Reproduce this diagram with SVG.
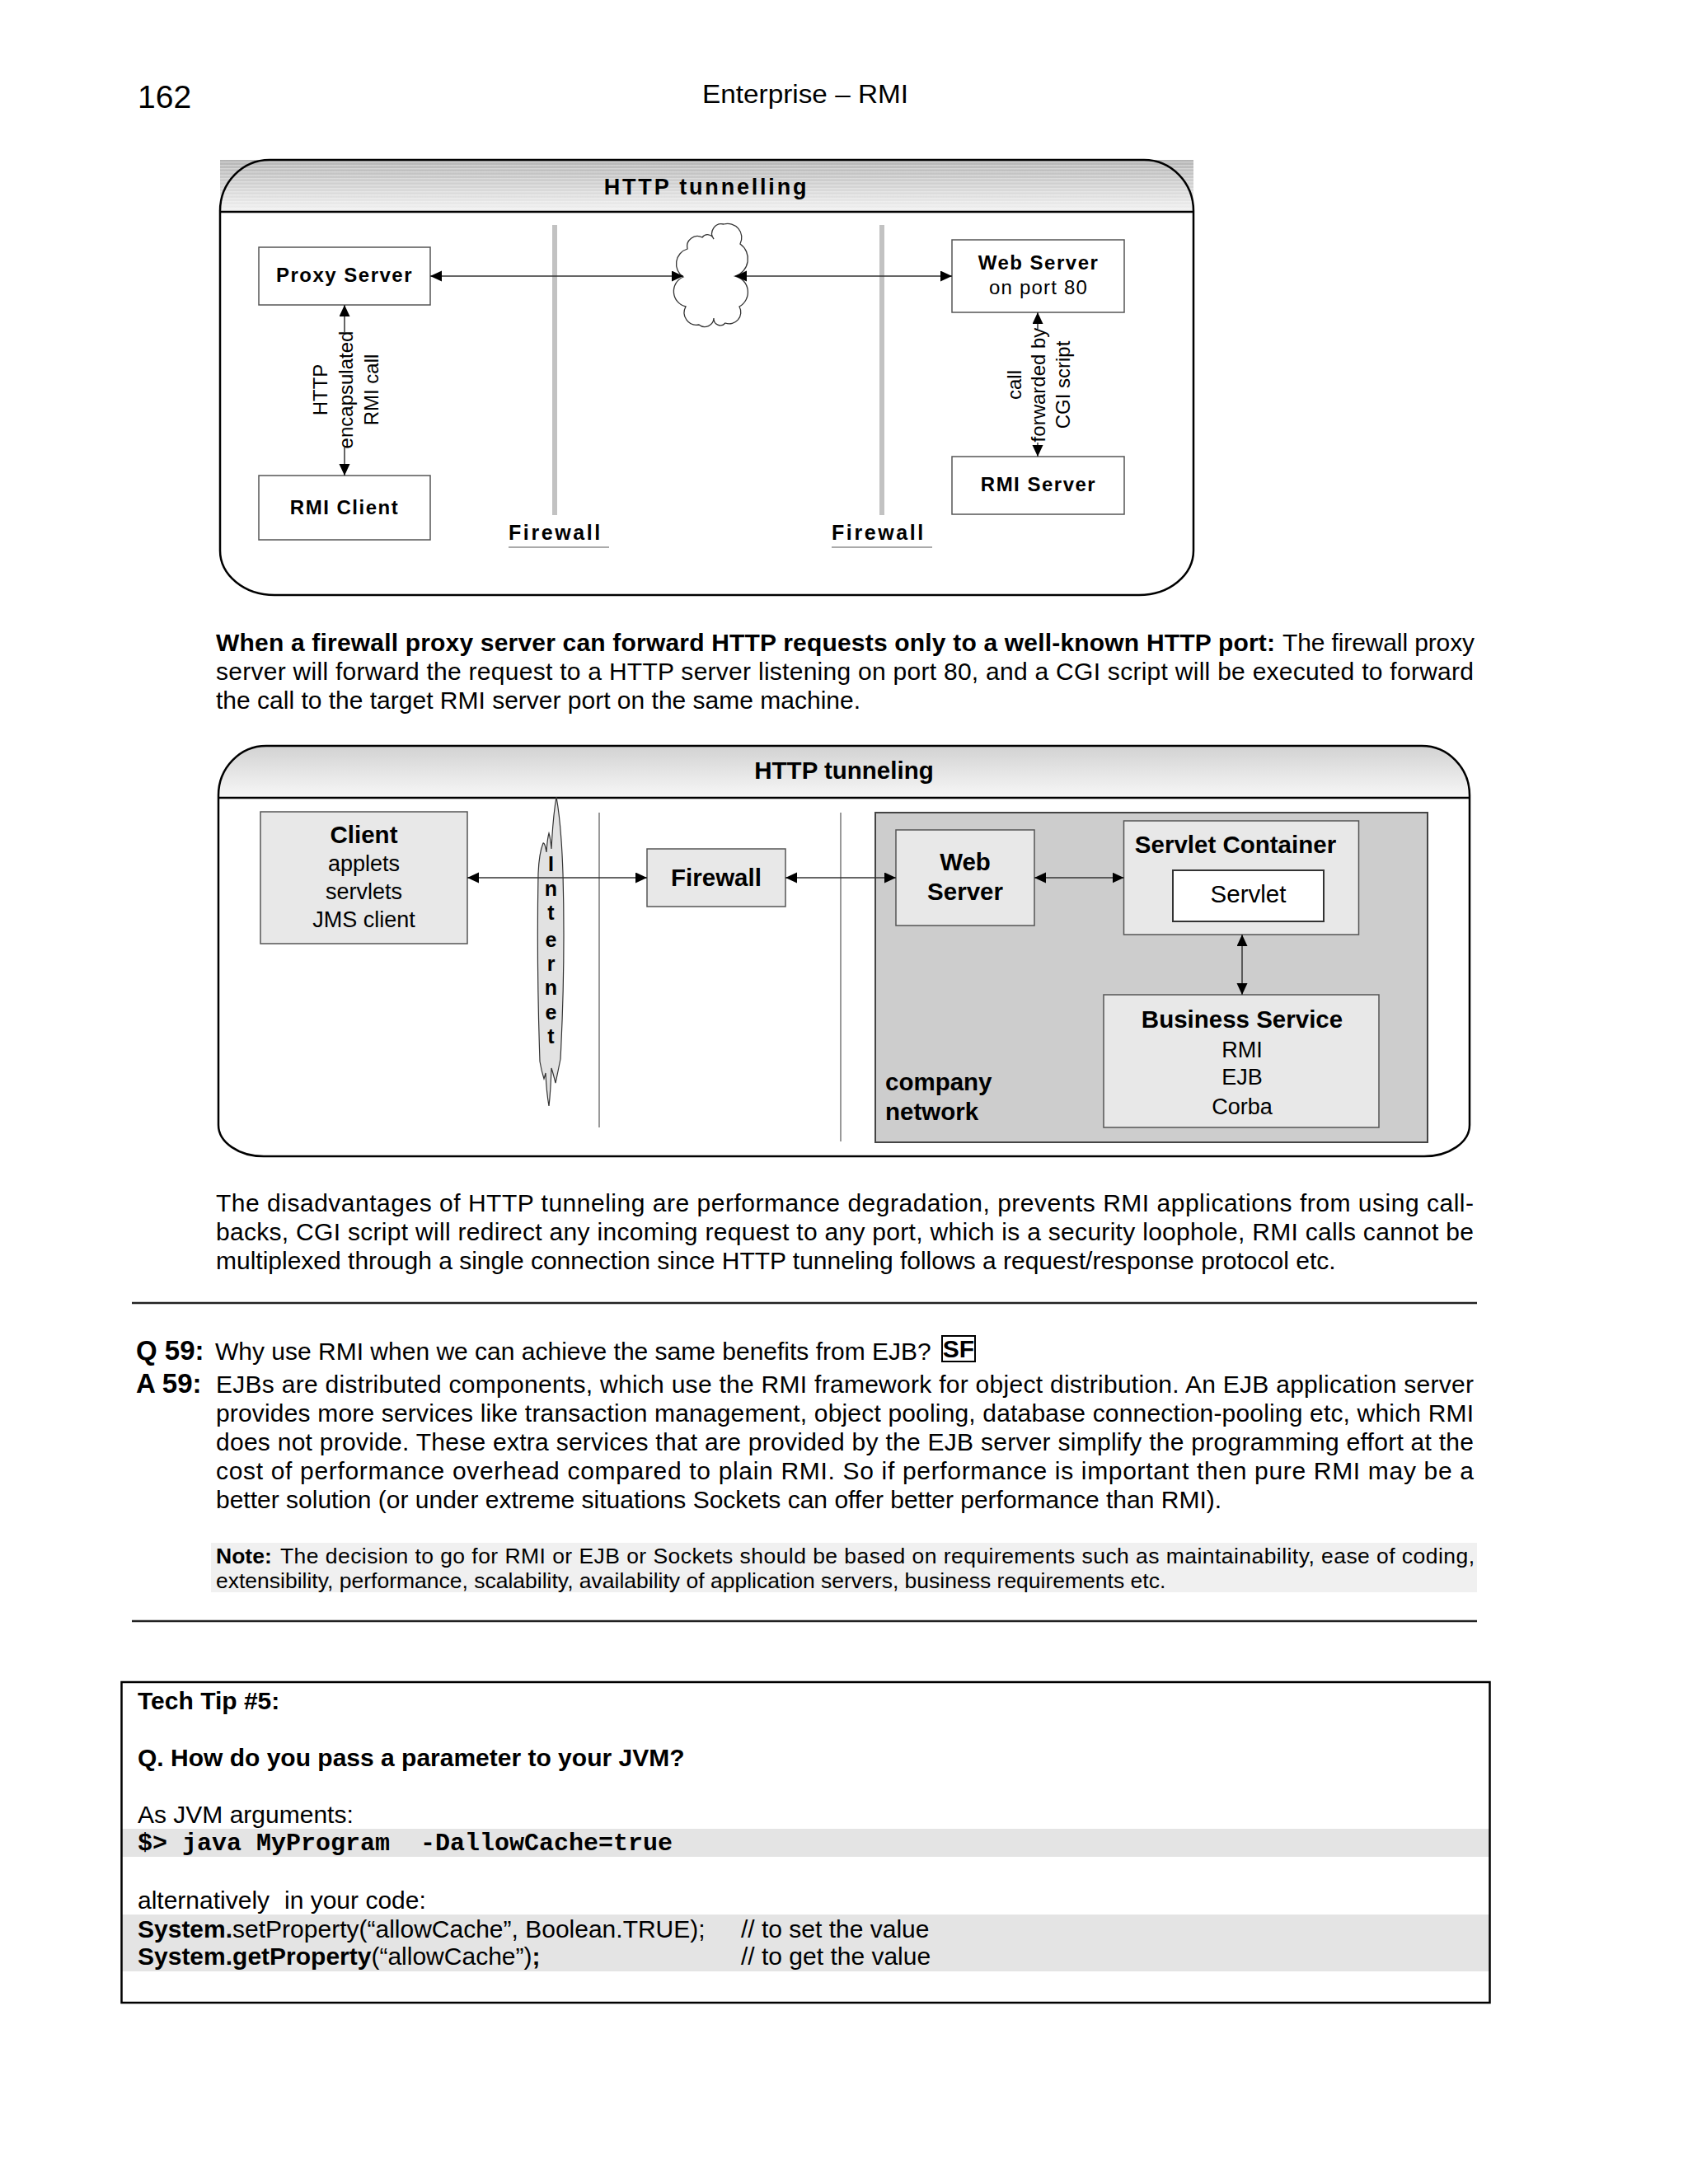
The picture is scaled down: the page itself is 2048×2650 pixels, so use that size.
<svg xmlns="http://www.w3.org/2000/svg" width="2048" height="2650" viewBox="0 0 2048 2650">
<style>
.t{font-family:"Liberation Sans",Arial,sans-serif;fill:#000}
.b{font-weight:bold}
.mono{font-family:"Liberation Mono","Courier New",monospace;font-weight:bold;fill:#000}
.body{font-size:30px}
.note{font-size:26.5px}
.d1{font-size:24px;font-weight:bold;letter-spacing:1.5px}
.d1r{font-size:24px;letter-spacing:1.2px}
.rot{font-size:24px}
.fw{font-size:25px;font-weight:bold;letter-spacing:2.6px}
.d2b{font-size:29.5px;font-weight:bold}
.d2r{font-size:27px}
.box1{fill:#fff;stroke:#555;stroke-width:1.5}
.box2{fill:#e8e8e8;stroke:#555;stroke-width:1.5}
.frame{fill:none;stroke:#000;stroke-width:2.5}
.conn{stroke:#333;stroke-width:1.5;fill:none;marker-start:url(#ah);marker-end:url(#ah)}
.rule{stroke:#222;stroke-width:2.5}
.band{fill:#e4e4e4}
</style>
<defs>
<marker id="ah" markerUnits="userSpaceOnUse" markerWidth="16" markerHeight="14" refX="14" refY="6.5" orient="auto-start-reverse">
<path d="M0,0 L14,6.5 L0,13 Z" fill="#000"/>
</marker>
<linearGradient id="hg1" x1="0" y1="0" x2="0" y2="1">
<stop offset="0" stop-color="#b4b4b4"/>
<stop offset="1" stop-color="#f2f2f2"/>
</linearGradient>
<linearGradient id="hg2" x1="0" y1="0" x2="0" y2="1">
<stop offset="0" stop-color="#d2d2d2"/>
<stop offset="1" stop-color="#f7f7f7"/>
</linearGradient>
<pattern id="stripes" width="10" height="4" patternUnits="userSpaceOnUse">
<rect x="0" y="0" width="10" height="1.4" fill="#fff" opacity="0.35"/>
</pattern>
</defs>

<rect x="0" y="0" width="2048" height="2650" fill="#fff"/>

<!-- page header -->
<text class="t" x="167" y="131" font-size="39">162</text>
<text class="t" x="852" y="125" font-size="32" textLength="250" lengthAdjust="spacingAndGlyphs">Enterprise – RMI</text>

<!-- ===== Diagram 1 ===== -->
<g id="diagram1-frame">
<rect x="267" y="194" width="1181" height="63" fill="url(#hg1)"/>
<rect x="267" y="194" width="1181" height="63" fill="url(#stripes)"/>
<path class="frame" d="M327,194 H1388 A60 62 0 0 1 1448,256 V668 A66 54 0 0 1 1382,722 H333 A66 54 0 0 1 267,668 V256 A60 62 0 0 1 327,194 Z"/>
<line x1="267" y1="257" x2="1448" y2="257" stroke="#000" stroke-width="2.5"/>
<text class="t b" x="857" y="236" font-size="27" letter-spacing="2.8" text-anchor="middle">HTTP tunnelling</text>
</g>

<g id="d1-firewall-left">
<line x1="673" y1="273" x2="673" y2="625" stroke="#c2c2c2" stroke-width="6"/>
<text class="t fw" x="617" y="655">Firewall</text>
<line x1="617" y1="664" x2="739" y2="664" stroke="#aaa" stroke-width="2"/>
</g>
<g id="d1-firewall-right">
<line x1="1070" y1="273" x2="1070" y2="625" stroke="#c2c2c2" stroke-width="6"/>
<text class="t fw" x="1009" y="655">Firewall</text>
<line x1="1009" y1="664" x2="1131" y2="664" stroke="#aaa" stroke-width="2"/>
</g>

<g id="d1-proxy-server">
<rect class="box1" x="314" y="300" width="208" height="70"/>
<text class="t d1" x="418" y="342" text-anchor="middle">Proxy Server</text>
</g>
<g id="d1-rmi-client">
<rect class="box1" x="314" y="577" width="208" height="78"/>
<text class="t d1" x="418" y="624" text-anchor="middle">RMI Client</text>
</g>
<g id="d1-web-server">
<rect class="box1" x="1155" y="291" width="209" height="88"/>
<text class="t d1" x="1260" y="327" text-anchor="middle">Web Server</text>
<text class="t d1r" x="1260" y="357" text-anchor="middle">on port 80</text>
</g>
<g id="d1-rmi-server">
<rect class="box1" x="1155" y="554" width="209" height="70"/>
<text class="t d1" x="1260" y="596" text-anchor="middle">RMI Server</text>
</g>
<g id="d1-cloud">
<path d="M829,336 A19 19 0 0 1 834,302 A12.5 12.5 0 0 1 852,288 A8 8 0 0 1 866,290 A11.5 11.5 0 0 1 878,272 A17 17 0 0 1 898,296 A22 22 0 0 1 892,335 A20 20 0 0 1 897,372 A14 14 0 0 1 880,392 A8 8 0 0 1 866,386 A11 11 0 0 1 848,394 A15 15 0 0 1 832,372 A19 19 0 0 1 829,336 Z" fill="#fff" stroke="#333" stroke-width="1.3"/>
</g>

<g id="d1-connectors">
<line class="conn" x1="522" y1="335" x2="829" y2="335"/>
<line class="conn" x1="892" y1="335" x2="1155" y2="335"/>
<line class="conn" x1="418" y1="370" x2="418" y2="577"/>
<line class="conn" x1="1259" y1="379" x2="1259" y2="554"/>
</g>

<g id="d1-labels">
<rect x="408" y="403" width="22" height="140" fill="#fff"/>
<text class="t rot" transform="translate(397,473) rotate(-90)" text-anchor="middle">HTTP</text>
<text class="t rot" transform="translate(428,473) rotate(-90)" text-anchor="middle">encapsulated</text>
<text class="t rot" transform="translate(459,473) rotate(-90)" text-anchor="middle">RMI call</text>
<rect x="1249" y="399" width="22" height="138" fill="#fff"/>
<text class="t rot" transform="translate(1239,467) rotate(-90)" text-anchor="middle">call</text>
<text class="t rot" transform="translate(1268,467) rotate(-90)" text-anchor="middle">forwarded by</text>
<text class="t rot" transform="translate(1298,467) rotate(-90)" text-anchor="middle">CGI script</text>
</g>

<!-- paragraph 1 -->
<g id="para1">
<text class="t body" y="790"><tspan class="b" x="262" textLength="1285" lengthAdjust="spacing">When a firewall proxy server can forward HTTP requests only to a well-known HTTP port:</tspan><tspan x="1556" textLength="233" lengthAdjust="spacing">The firewall proxy</tspan></text>
<text class="t body" x="262" y="825" textLength="1526" lengthAdjust="spacing">server will forward the request to a HTTP server listening on port 80, and a CGI script will be executed to forward</text>
<text class="t body" x="262" y="860">the call to the target RMI server port on the same machine.</text>
</g>

<!-- ===== Diagram 2 ===== -->
<g id="diagram2-frame">
<path d="M265,968 V965 A58 60 0 0 1 323,905 H1725 A58 60 0 0 1 1783,965 V968 Z" fill="url(#hg2)"/>
<path class="frame" d="M323,905 H1725 A58 60 0 0 1 1783,965 V1365 A55 38 0 0 1 1728,1403 H320 A55 38 0 0 1 265,1365 V965 A58 60 0 0 1 323,905 Z"/>
<line x1="265" y1="968" x2="1783" y2="968" stroke="#000" stroke-width="2.5"/>
<text class="t b" x="1024" y="945" font-size="29.5" text-anchor="middle">HTTP tunneling</text>
</g>

<g id="d2-company-network">
<rect x="1062" y="986" width="670" height="400" fill="#cdcdcd" stroke="#444" stroke-width="2"/>
<text class="t d2b" x="1074" y="1323" font-size="29">company</text>
<text class="t d2b" x="1074" y="1359" font-size="29">network</text>
</g>
<g id="d2-dividers">
<line x1="727" y1="986" x2="727" y2="1368" stroke="#777" stroke-width="1.5"/>
<line x1="1020" y1="986" x2="1020" y2="1385" stroke="#777" stroke-width="1.5"/>
</g>

<g id="d2-client">
<rect class="box2" x="316" y="985" width="251" height="160"/>
<text class="t d2b" x="441.5" y="1023" font-size="30" text-anchor="middle">Client</text>
<text class="t d2r" x="441.5" y="1057" text-anchor="middle">applets</text>
<text class="t d2r" x="441.5" y="1090.5" text-anchor="middle">servlets</text>
<text class="t d2r" x="441.5" y="1124.5" text-anchor="middle">JMS client</text>
</g>

<g id="d2-internet">
<path d="M675,967 Q681,1000 683,1060 Q686,1170 680,1285 Q677,1300 674,1314 Q671,1302 669,1296 Q668,1325 666,1342 Q663,1325 662,1302 Q661,1306 660,1309 Q657,1300 655,1288 Q651,1170 653,1060 Q654,1035 659,1023 Q661,1022 663,1034 Q664,1018 666,1011 Q668,1018 669,1030 Q671,990 675,967 Z" fill="#e2e2e2" stroke="#333" stroke-width="1.2"/>
<g class="t b" font-size="25" text-anchor="middle">
<text x="668.5" y="1057">I</text>
<text x="668.5" y="1087">n</text>
<text x="668.5" y="1116">t</text>
<text x="668.5" y="1149">e</text>
<text x="668.5" y="1178">r</text>
<text x="668.5" y="1207">n</text>
<text x="668.5" y="1237">e</text>
<text x="668.5" y="1266">t</text>
</g>
</g>

<g id="d2-firewall">
<rect class="box2" x="785" y="1030" width="168" height="70"/>
<text class="t d2b" x="869" y="1074.5" font-size="30" text-anchor="middle">Firewall</text>
</g>
<g id="d2-web-server">
<rect class="box2" x="1087" y="1007" width="168" height="116"/>
<text class="t d2b" x="1171" y="1055.5" text-anchor="middle">Web</text>
<text class="t d2b" x="1171" y="1091.5" text-anchor="middle">Server</text>
</g>
<g id="d2-servlet-container">
<rect class="box2" x="1363.5" y="996" width="285" height="138"/>
<text class="t d2b" x="1499" y="1035" font-size="29" text-anchor="middle">Servlet Container</text>
<rect x="1423" y="1056" width="183" height="62" fill="#fff" stroke="#333" stroke-width="2"/>
<text class="t" x="1514.5" y="1095" font-size="29.5" text-anchor="middle">Servlet</text>
</g>
<g id="d2-business-service">
<rect class="box2" x="1339" y="1207" width="334" height="161"/>
<text class="t d2b" x="1507" y="1247" text-anchor="middle">Business Service</text>
<text class="t d2r" x="1507" y="1282.5" text-anchor="middle">RMI</text>
<text class="t d2r" x="1507" y="1316" text-anchor="middle">EJB</text>
<text class="t d2r" x="1507" y="1352" text-anchor="middle">Corba</text>
</g>

<g id="d2-connectors">
<line class="conn" x1="567" y1="1065" x2="785" y2="1065"/>
<line class="conn" x1="953" y1="1065" x2="1087" y2="1065"/>
<line class="conn" x1="1255" y1="1065" x2="1363.5" y2="1065"/>
<line class="conn" x1="1507" y1="1134" x2="1507" y2="1207"/>
</g>

<!-- paragraph 2 -->
<g id="para2">
<text class="t body" x="262" y="1470" textLength="1526" lengthAdjust="spacing">The disadvantages of HTTP tunneling are performance degradation, prevents RMI applications from using call-</text>
<text class="t body" x="262" y="1505" textLength="1526" lengthAdjust="spacing">backs, CGI script will redirect any incoming request to any port, which is a security loophole, RMI calls cannot be</text>
<text class="t body" x="262" y="1540">multiplexed through a single connection since HTTP tunneling follows a request/response protocol etc.</text>
</g>

<line class="rule" x1="160" y1="1581" x2="1792" y2="1581"/>

<!-- Q & A -->
<g id="qa59">
<text class="t b" x="165" y="1650" font-size="33">Q 59:</text>
<text class="t body" x="261" y="1650">Why use RMI when we can achieve the same benefits from EJB?</text>
<rect x="1143" y="1621" width="40" height="31" fill="none" stroke="#000" stroke-width="2"/>
<text class="t b body" x="1163" y="1647" text-anchor="middle">SF</text>
<text class="t b" x="165" y="1690" font-size="33">A 59:</text>
<text class="t body" x="262" y="1690" textLength="1526" lengthAdjust="spacing">EJBs are distributed components, which use the RMI framework for object distribution. An EJB application server</text>
<text class="t body" x="262" y="1725" textLength="1526" lengthAdjust="spacing">provides more services like transaction management, object pooling, database connection-pooling etc, which RMI</text>
<text class="t body" x="262" y="1760" textLength="1526" lengthAdjust="spacing">does not provide. These extra services that are provided by the EJB server simplify the programming effort at the</text>
<text class="t body" x="262" y="1795" textLength="1526" lengthAdjust="spacing">cost of performance overhead compared to plain RMI. So if performance is important then pure RMI may be a</text>
<text class="t body" x="262" y="1830">better solution (or under extreme situations Sockets can offer better performance than RMI).</text>
</g>

<g id="note">
<rect x="256" y="1872" width="1536" height="60" fill="#f0f0f0"/>
<text class="t note" y="1897"><tspan class="b" x="262">Note:</tspan><tspan x="340" textLength="1449" lengthAdjust="spacing">The decision to go for RMI or EJB or Sockets should be based on requirements such as maintainability, ease of coding,</tspan></text>
<text class="t note" x="262" y="1927">extensibility, performance, scalability, availability of application servers, business requirements etc.</text>
</g>

<line class="rule" x1="160" y1="1967" x2="1792" y2="1967"/>

<!-- Tech tip -->
<g id="techtip">
<rect x="148" y="2219" width="1659" height="34" class="band"/>
<rect x="148" y="2323" width="1659" height="69" class="band"/>
<rect x="147.5" y="2041" width="1660" height="389" fill="none" stroke="#000" stroke-width="2.5"/>
<text class="t b body" x="167" y="2074">Tech Tip #5:</text>
<text class="t b body" x="167" y="2143">Q. How do you pass a parameter to your JVM?</text>
<text class="t body" x="167" y="2212">As JVM arguments:</text>
<text class="mono" font-size="30" y="2245"><tspan x="167">$&gt; java MyProgram</tspan><tspan x="510">-DallowCache=true</tspan></text>
<text class="t body" y="2316"><tspan x="167">alternatively</tspan><tspan x="345">in your code:</tspan></text>
<text class="t body" y="2351"><tspan class="b" x="167">System.</tspan><tspan>setProperty(“allowCache”, Boolean.TRUE);</tspan><tspan x="899">// to set the value</tspan></text>
<text class="t body" y="2384"><tspan class="b" x="167">System.getProperty</tspan><tspan>(“allowCache”)</tspan><tspan class="b">;</tspan><tspan x="899">// to get the value</tspan></text>
</g>
</svg>
